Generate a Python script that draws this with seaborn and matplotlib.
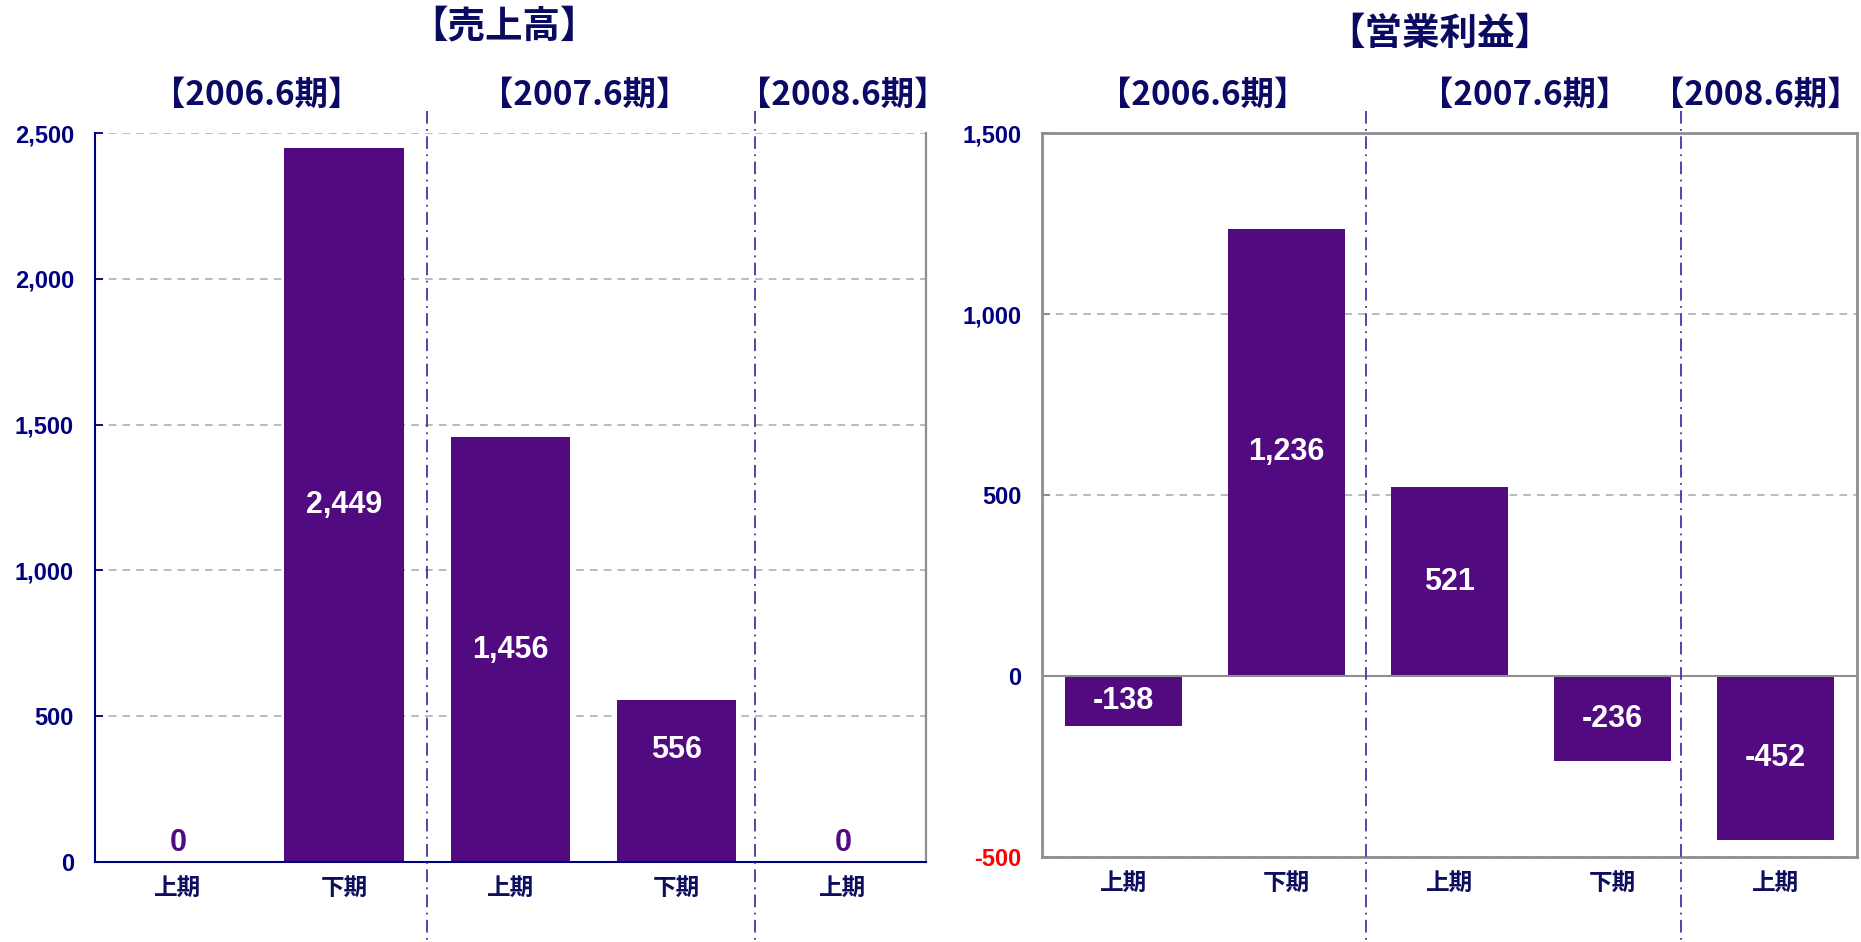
import matplotlib
matplotlib.use("Agg")
import matplotlib.pyplot as plt
import matplotlib.transforms as mtransforms
from matplotlib.ticker import FixedLocator, FuncFormatter
import seaborn as sns
import pandas as pd

# ---- data -------------------------------------------------------------
period_names = ["【2006.6期】", "【2007.6期】", "【2008.6期】"]
half_labels = ["上期", "下期", "上期", "下期", "上期"]
half_keys = ["2006.6上", "2006.6下", "2007.6上", "2007.6下", "2008.6上"]
sales = [0, 2449, 1456, 556, 0]               # 売上高
op_income = [-138, 1236, 521, -236, -452]     # 営業利益
sales_ticks = [0, 500, 1000, 1500, 2000, 2500]
income_ticks = [-500, 0, 500, 1000, 1500]

# ---- style ------------------------------------------------------------
BAR = "#520A80"
NAVY = "#000080"
LABEL_NAVY = "#0E0E5E"
SEP = "#3A3AA6"
GRID = "#A8A8A8"
FRAME = "#8E8E8E"
CJK = ["Noto Sans CJK JP", "DejaVu Sans"]

sns.set_theme(style="white")
plt.rcParams["font.family"] = ["Liberation Sans", "Noto Sans CJK JP", "DejaVu Sans"]

fig = plt.figure(figsize=(18.61, 9.42), dpi=100)
ax_s = fig.add_axes([0.0510, 0.0849, 0.4465, 0.7739])
ax_o = fig.add_axes([0.5599, 0.0902, 0.4379, 0.7686])


def draw_panel(ax, values, ticks, title, title_xy, period_x, sep_x, label_frac):
    df = pd.DataFrame({"key": half_keys, "value": values})
    sns.barplot(data=df, x="key", y="value", order=half_keys, color=BAR,
                saturation=1, width=0.72, errorbar=None, edgecolor="none",
                linewidth=0, ax=ax)
    ax.set_xlim(-0.5, len(half_keys) - 0.5)
    ax.set_ylim(ticks[0], ticks[-1])
    ax.set_xlabel("")
    ax.set_ylabel("")

    ax.yaxis.set_major_locator(FixedLocator(ticks))
    ax.yaxis.set_major_formatter(FuncFormatter(lambda v, p: f"{int(v):,}"))
    ax.set_xticks(range(len(half_keys)))
    ax.set_xticklabels(half_labels, fontfamily=CJK, fontweight="bold",
                       fontsize=17, color=LABEL_NAVY)
    ax.tick_params(axis="x", length=0, pad=10)
    for lab in ax.get_yticklabels():
        lab.set_fontweight("bold")
        lab.set_fontsize(17)
        lab.set_color(NAVY)

    # dashed value grid
    ax.yaxis.grid(True, linestyle=(0, (5, 4)), color=GRID, linewidth=1.1)
    ax.set_axisbelow(True)

    # value labels
    for i, v in enumerate(values):
        if v == 0:
            ax.text(i, (ticks[-1] - ticks[0]) * 0.026, "0", ha="center", va="center",
                    color=BAR, fontsize=22, fontweight="bold")
        else:
            ax.text(i, v * label_frac[i], f"{v:,}", ha="center", va="center",
                    color="white", fontsize=22, fontweight="bold")

    # fiscal-year separators and headers
    trans = mtransforms.blended_transform_factory(ax.transData, ax.transAxes)
    for x in sep_x:
        ax.plot([x, x], [1.03, -0.13], transform=trans, clip_on=False,
                color=SEP, linewidth=1.3, linestyle=(0, (7, 3, 1, 3)), zorder=5)
    for name, x in zip(period_names, period_x):
        ax.text(x, 1.052, name, transform=trans, ha="center", va="center",
                fontfamily=CJK, fontweight="bold", fontsize=24, color="#0A0A66")

    fig.text(title_xy[0], title_xy[1], title, ha="center", va="center",
             fontfamily=CJK, fontweight="bold", fontsize=27, color="#0A0A60")


draw_panel(ax_s, sales, sales_ticks, "【売上高】", (504 / 1861, 1 - 26 / 942),
           [0.476, 2.45, 4.0], [1.5, 3.47], [0.5, 0.5, 0.5, 0.69, 0.5])
draw_panel(ax_o, op_income, income_ticks, "【営業利益】", (1440 / 1861, 1 - 33 / 942),
           [0.488, 2.46, 3.88], [1.49, 3.42], [0.5, 0.5, 0.5, 0.5, 0.5])

# sales panel frame: navy value/base axes, grey right edge, open top
for side in ["left", "bottom"]:
    ax_s.spines[side].set_color(NAVY)
    ax_s.spines[side].set_linewidth(1.5)
ax_s.spines["right"].set_color(FRAME)
ax_s.spines["right"].set_linewidth(1.6)
ax_s.spines["top"].set_visible(False)
ax_s.tick_params(axis="y", direction="in", length=6, width=1.3, color=NAVY, pad=15, left=True)

# operating income panel frame: grey box with a solid zero line
for side in ["left", "right", "top", "bottom"]:
    ax_o.spines[side].set_color(FRAME)
    ax_o.spines[side].set_linewidth(2)
ax_o.axhline(0, color=FRAME, linewidth=1.5, zorder=1)
ax_o.tick_params(axis="y", direction="in", length=6, width=1.5, color=FRAME, pad=15, left=True)
for lab in ax_o.get_yticklabels():
    if lab.get_text().startswith("-"):
        lab.set_color("#FF0000")

fig.savefig("out.png", dpi=100, facecolor="white")
